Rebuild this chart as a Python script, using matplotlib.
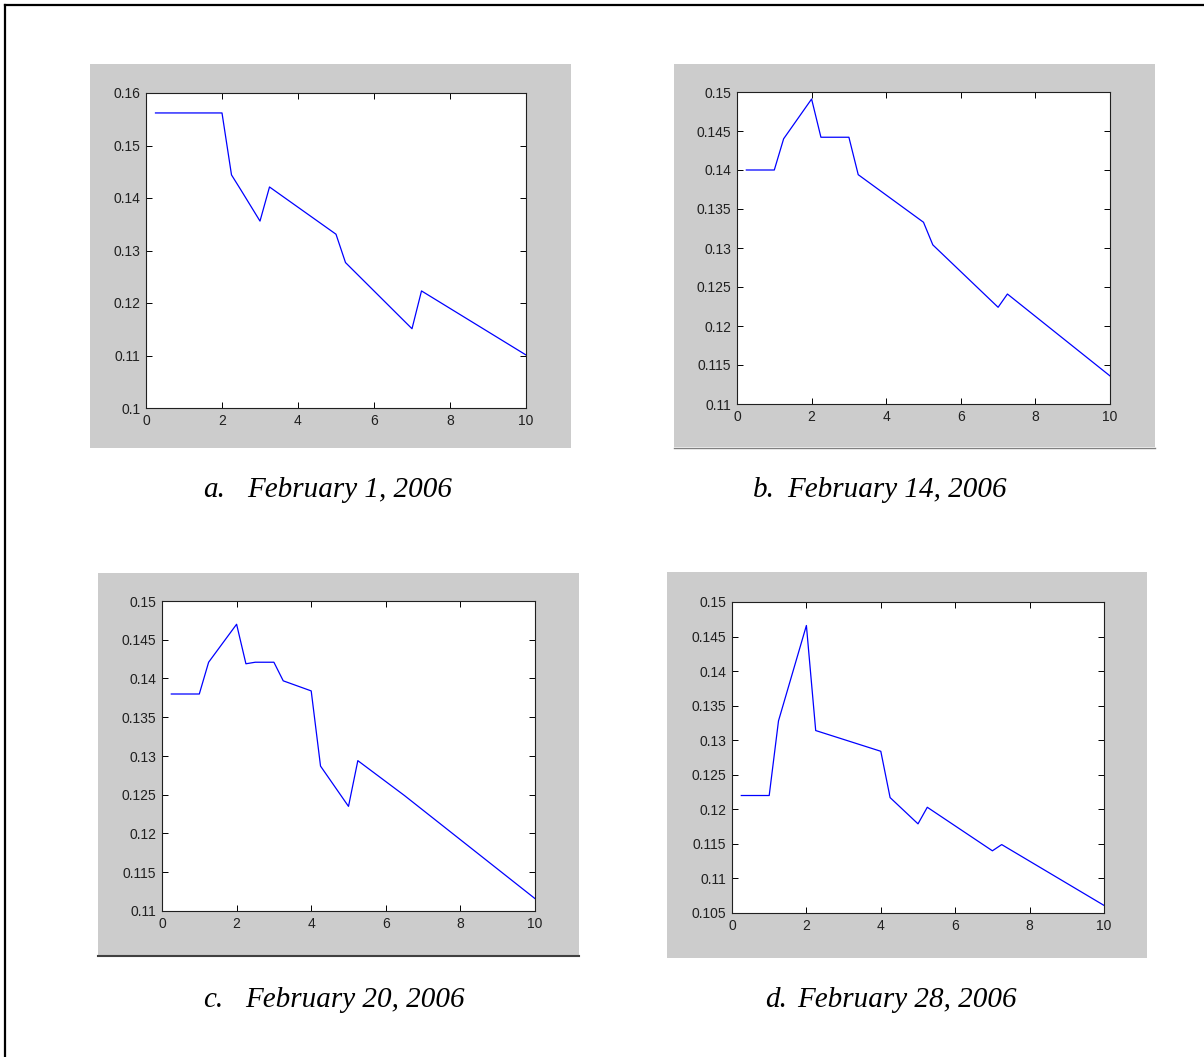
import matplotlib
matplotlib.use("Agg")
import matplotlib.pyplot as plt
from matplotlib.patches import Rectangle
from matplotlib.lines import Line2D
from matplotlib.ticker import FixedLocator, FuncFormatter

W, H = 1204, 1057

# days 1, 14, 20 and 28 of February 2006
x_feb01 = [0.25, 2, 2.25, 2.5, 3, 3.25, 5, 5.25, 7, 7.25, 10]
y_feb01 = [0.1562, 0.1562, 0.1444, 0.1415, 0.1356, 0.1421, 0.1331, 0.1277, 0.1151, 0.1223, 0.1101]

x_feb14 = [0.25, 1, 1.25, 2, 2.25, 3, 3.25, 5, 5.25, 7, 7.25, 10]
y_feb14 = [0.14, 0.14, 0.144, 0.1491, 0.1442, 0.1442, 0.1394, 0.1333, 0.1304, 0.1224, 0.1241, 0.1136]

x_feb20 = [0.25, 1, 1.25, 2, 2.25, 2.5, 3, 3.25, 4, 4.25, 5, 5.25, 6.5, 10]
y_feb20 = [0.138, 0.138, 0.1421, 0.147, 0.1419, 0.1421, 0.1421, 0.1397, 0.1384, 0.1287, 0.1235, 0.1294, 0.1249, 0.1116]

x_feb28 = [0.25, 1, 1.25, 2, 2.25, 4, 4.25, 5, 5.25, 7, 7.25, 10]
y_feb28 = [0.122, 0.122, 0.1328, 0.1466, 0.1314, 0.1284, 0.1217, 0.1179, 0.1203, 0.114, 0.1149, 0.1061]

x_ticks = [0, 2, 4, 6, 8, 10]
y_ticks_a = [0.1, 0.11, 0.12, 0.13, 0.14, 0.15, 0.16]
y_ticks_b = [0.11, 0.115, 0.12, 0.125, 0.13, 0.135, 0.14, 0.145, 0.15]
y_ticks_d = [0.105, 0.11, 0.115, 0.12, 0.125, 0.13, 0.135, 0.14, 0.145, 0.15]

letters = ["a.", "b.", "c.", "d."]
dates = ["February 1, 2006", "February 14, 2006", "February 20, 2006", "February 28, 2006"]


def frac(x0, y0, x1, y1):
	"""pixel box (top-left origin) -> figure fraction [l, b, w, h]"""
	return [x0 / W, 1 - y1 / H, (x1 - x0) / W, (y1 - y0) / H]


def panel(fig, back, box, xs, ys, yticks):
	"""
	Draws one matlab-style plot: grey window, white axes, blue line.
	"""
	l, b, w, h = frac(*back)
	fig.patches.append(Rectangle((l, b), w, h, transform=fig.transFigure,
		facecolor="#cccccc", edgecolor="none", zorder=-5))

	ax = fig.add_axes(frac(*box))
	ax.set_zorder(2)
	ax.plot(xs, ys, color="#0000ff", lw=0.9)
	ax.set_xlim(0, 10)
	ax.set_ylim(yticks[0], yticks[-1])
	ax.xaxis.set_major_locator(FixedLocator(x_ticks))
	ax.yaxis.set_major_locator(FixedLocator(yticks))
	ax.yaxis.set_major_formatter(FuncFormatter(lambda v, p: "%g" % round(v, 4)))
	ax.tick_params(direction="in", length=4, width=0.7, pad=4,
		top=True, right=True, labelsize=10, labelcolor="#202020")
	for s in ax.spines.values():
		s.set_linewidth(0.8)
		s.set_color("#202020")
	for t in ax.get_xticklabels() + ax.get_yticklabels():
		t.set_family("Liberation Sans")
	return ax


def caption(fig, xl, xd, base, letter, date):
	kw = dict(family="Liberation Serif", style="italic", fontsize=21,
		va="baseline", ha="left", transform=fig.transFigure)
	fig.text(xl / W, 1 - base / H, letter, **kw)
	fig.text(xd / W, 1 - base / H, date, **kw)


def main():
	fig = plt.figure(figsize=(W / 100, H / 100), dpi=100)
	fig.patch.set_facecolor("white")

	panel(fig, (90, 64, 571, 448), (146, 93, 526, 408), x_feb01, y_feb01, y_ticks_a)
	panel(fig, (674, 64, 1155, 447), (737, 92, 1110, 404), x_feb14, y_feb14, y_ticks_b)
	panel(fig, (98, 573, 579, 955), (162, 601, 535, 911), x_feb20, y_feb20, y_ticks_b)
	panel(fig, (667, 572, 1147, 958), (732, 602, 1104, 913), x_feb28, y_feb28, y_ticks_d)

	# shadow lines under two of the windows
	fig.lines.append(Line2D([674 / W, 1155 / W], [1 - 448 / H] * 2,
		transform=fig.transFigure, color="#808080", lw=1))
	fig.lines.append(Line2D([98 / W, 579 / W], [1 - 956 / H] * 2,
		transform=fig.transFigure, color="#404040", lw=1.5))

	caption(fig, 203, 247, 497, letters[0], dates[0])
	caption(fig, 753, 787, 497, letters[1], dates[1])
	caption(fig, 203, 245, 1007, letters[2], dates[2])
	caption(fig, 765, 797, 1007, letters[3], dates[3])

	# frame along top and left
	fig.lines.append(Line2D([5 / W, 1], [1 - 5 / H] * 2,
		transform=fig.transFigure, color="black", lw=1.6))
	fig.lines.append(Line2D([5 / W] * 2, [0, 1 - 5 / H],
		transform=fig.transFigure, color="black", lw=1.6))

	fig.savefig("out.png", dpi=100)


if __name__ == "__main__":
	main()
